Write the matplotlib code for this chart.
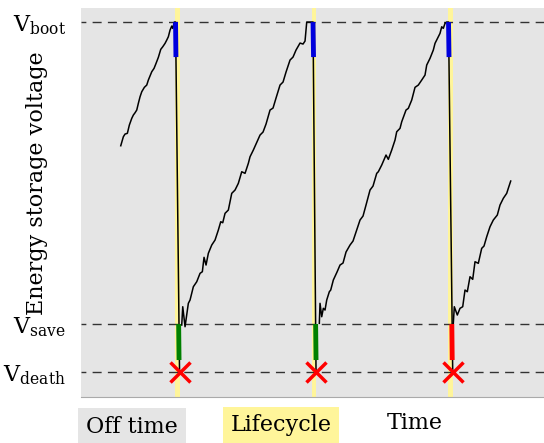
import matplotlib
matplotlib.use("Agg")
import matplotlib.pyplot as plt

plt.rcParams['font.family'] = ['DejaVu Serif']
plt.rcParams['mathtext.fontset'] = 'dejavuserif'

# threshold voltages (arbitrary units)
V_BOOT = 37.5
V_SAVE = 7.3
V_DEATH = 2.5

# charging traces (time, voltage)
rise0_t = [3.97, 4.23, 4.40, 4.63, 4.83, 5.07, 5.23, 5.40, 5.57, 5.73, 5.90, 6.07, 6.33, 6.57,
           6.73, 7.07, 7.30, 7.50, 7.73, 7.97, 8.17, 8.40, 8.57, 8.73, 8.90, 9.07, 9.17, 9.33, 9.45, 9.85]
rise0_v = [25.13, 26.03, 26.30, 26.37, 27.20, 27.87, 28.20, 28.43, 28.70, 29.37, 30.03, 30.53, 30.97, 31.20,
           31.70, 32.53, 32.87, 33.37, 33.97, 34.77, 35.03, 35.37, 35.70, 36.03, 36.70, 37.10, 36.87, 37.50, 37.50, 2.50]

rise1_t = [10.07, 10.17, 10.40, 10.73, 10.90, 11.23, 11.57, 11.90, 12.13, 12.30, 12.50, 12.73, 13.07, 13.40,
           13.73, 13.97, 14.17, 14.40, 14.73, 15.07, 15.40, 15.73, 16.07, 16.40, 16.73, 16.90, 17.23, 17.90,
           18.20, 18.50, 18.90, 19.20, 19.50, 19.90, 20.20, 20.50, 20.90, 21.20, 21.50, 21.90, 22.20, 22.40,
           22.57, 23.20, 23.50]
rise1_v = [7.20, 9.03, 7.03, 9.37, 9.70, 11.03, 11.53, 12.37, 12.53, 13.97, 13.20, 14.37, 15.20, 15.70,
           16.70, 17.53, 17.43, 18.37, 18.70, 20.37, 20.70, 21.37, 22.53, 22.37, 23.37, 24.03, 24.70, 26.20,
           26.50, 27.30, 28.70, 28.90, 29.90, 31.20, 31.50, 32.50, 33.70, 34.00, 34.70, 35.40, 35.30, 35.60,
           37.50, 37.50, 2.50]

rise2_t = [23.83, 23.90, 24.07, 24.23, 24.40, 24.57, 24.83, 24.97, 25.23, 25.60, 25.90, 26.20, 26.50, 26.90,
           27.20, 27.50, 27.90, 28.20, 28.50, 28.90, 29.20, 29.57, 29.73, 30.07, 30.50, 30.73, 31.07, 31.40,
           31.57, 31.90, 32.07, 32.50, 32.73, 33.07, 33.40, 33.73, 34.07, 34.40, 34.57, 34.90, 35.23, 35.40,
           35.73, 35.90, 36.07, 36.23, 36.40, 36.57, 36.75, 37.17]
rise2_v = [7.37, 9.37, 8.03, 8.87, 8.70, 9.70, 10.53, 10.70, 11.70, 12.50, 13.20, 13.40, 14.50, 15.20,
           15.60, 16.50, 17.70, 18.10, 19.20, 20.70, 21.10, 22.37, 22.53, 23.20, 24.20, 23.77, 24.70, 25.70,
           26.53, 26.87, 27.53, 28.70, 28.87, 29.70, 30.97, 31.20, 31.70, 32.20, 33.20, 33.87, 34.70, 35.37,
           36.03, 36.37, 37.03, 36.87, 37.37, 37.50, 37.50, 2.50]

rise3_t = [37.23, 37.33, 37.63, 37.90, 38.17, 38.40, 38.63, 38.90, 39.17, 39.40, 39.73, 40.07, 40.30, 40.57,
           40.90, 41.23, 41.63, 41.90, 42.23, 42.57, 42.73, 42.97]
rise3_v = [7.37, 9.03, 8.20, 8.87, 9.03, 10.70, 10.53, 12.03, 11.77, 13.53, 13.37, 14.87, 15.10, 16.03,
           17.03, 17.70, 18.20, 19.20, 19.87, 20.37, 20.87, 21.60]

# lifecycle windows (yellow bands) and power-failure instants
life_start = [9.40, 23.05, 36.73]
life_end = [9.85, 23.50, 37.23]
fail_t = [9.85, 23.50, 37.17]

# state segments on the discharge edge: boot (blue) and save (green / red)
boot_t = [(9.45, 9.49), (23.20, 23.25), (36.75, 36.80)]
boot_v = (37.5, 34.0)
save_t = [(9.76, 9.80), (23.46, 23.50), (37.08, 37.12)]
save_v = (7.3, 3.7)
save_colors = ['green', 'green', 'red']

fig = plt.figure(figsize=(5.44, 4.43), dpi=100)
ax = fig.add_axes([0.149, 0.1038, 0.851, 0.878])
ax.set_facecolor('#e5e5e5')

for s, e in zip(life_start, life_end):
    ax.axvspan(s, e, color='#fff59a', zorder=1, lw=0)

for v in [V_BOOT, V_SAVE, V_DEATH]:
    ax.axhline(v, color='#333333', lw=1, ls=(3, (6.5, 4.5)), zorder=2)

for t, v in [(rise0_t, rise0_v), (rise1_t, rise1_v), (rise2_t, rise2_v), (rise3_t, rise3_v)]:
    ax.plot(t, v, color='black', lw=1.1, zorder=3)

for bt in boot_t:
    ax.plot(bt, boot_v, color='#0000dd', lw=3.5, solid_capstyle='butt', zorder=4)
for st, c in zip(save_t, save_colors):
    ax.plot(st, save_v, color=c, lw=3.5, solid_capstyle='butt', zorder=4)

ax.plot(fail_t, [V_DEATH] * 3, ls='none', marker='x', color='red', ms=14, mew=2.5, zorder=5)

ax.set_xlim(0, 46.3)
ax.set_ylim(0, 38.9)
ax.set_xticks([])
ax.set_yticks([V_BOOT, V_SAVE, V_DEATH])
ax.set_yticklabels([r'$\mathregular{V_{boot}}$', r'$\mathregular{V_{save}}$', r'$\mathregular{V_{death}}$'],
                   fontsize=16)
ax.tick_params(axis='y', length=0, pad=11)
for sp in ['top', 'right', 'left']:
    ax.spines[sp].set_visible(False)
ax.spines['bottom'].set_color('#aaaaaa')

ax.set_ylabel('Energy storage voltage', fontsize=16)
ax.yaxis.set_label_coords(-0.071, 0.55)

fig.text(0.2426, 0.036, 'Off time', fontsize=16, ha='center', va='center',
         bbox=dict(boxstyle='square,pad=0.35', fc='#e5e5e5', ec='none'))
fig.text(0.5165, 0.040, 'Lifecycle', fontsize=16, ha='center', va='center',
         bbox=dict(boxstyle='square,pad=0.35', fc='#fff59a', ec='none'))
fig.text(0.763, 0.045, 'Time', fontsize=16, ha='center', va='center')

fig.savefig('out.png', dpi=100)
